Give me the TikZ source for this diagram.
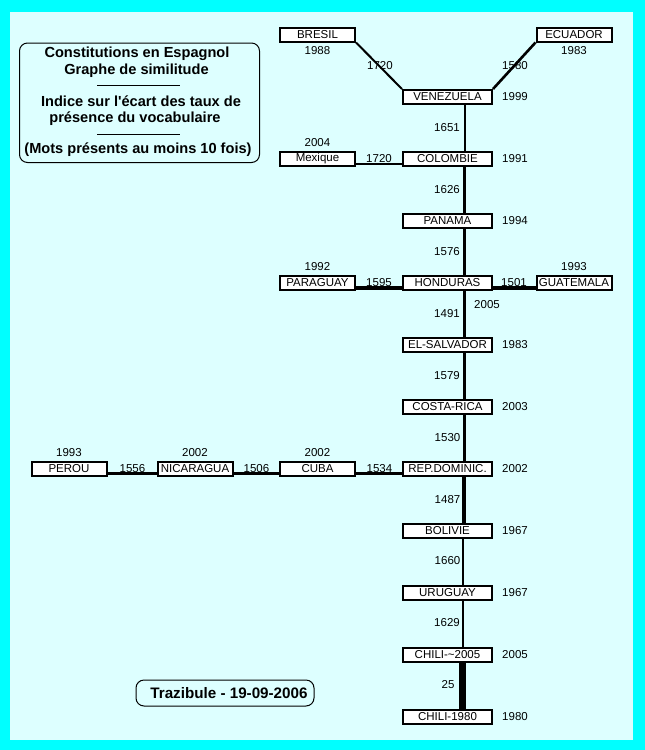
\documentclass[tikz,border=0pt]{standalone}
\usepackage{fontspec}
\setmainfont{Liberation Sans}
\definecolor{frame}{RGB}{0,255,255}
\definecolor{inner}{RGB}{221,255,255}
\tikzset{
  base/.style={draw=black, line width=2pt, fill=white, inner sep=0pt, minimum height=14pt, font=\fontsize{11.5}{12}\selectfont},
  mainbox/.style={base, minimum width=89pt},
  sidebox/.style={base, minimum width=75pt},
  lbl/.style={inner sep=0pt, font=\fontsize{11.5}{12}\selectfont},
  ttl/.style={inner sep=0pt, font=\fontsize{14.6}{15}\selectfont\bfseries},
  wa/.style={line width=2pt},
  wb/.style={line width=2.6pt},
  wc/.style={line width=3.3pt},
  wd/.style={line width=4pt},
  we/.style={line width=7pt},
}
\begin{document}
\begin{tikzpicture}[x=1pt,y=-1pt]
\fill[frame] (0,0) rectangle (645,750);
\fill[inner] (10,12) rectangle (633,740);
\useasboundingbox (0,0) rectangle (645,750);

% legend
\draw[line width=1pt, rounded corners=8pt] (19.5,43) rectangle (259.5,162.5);
\node[ttl] (t1) at (137,54) {Constitutions en Espagnol};
\node[ttl] (t2) at (136.5,70.5) {Graphe de similitude};
\draw[line width=1pt] (97,85.3) -- (180,85.3);
\node[ttl] (t3) at (141,101.5) {Indice sur l\textquotesingle écart des taux de};
\node[ttl] (t4) at (135,118.3) {présence du vocabulaire};
\draw[line width=1pt] (97,134.3) -- (180,134.3);
\node[ttl] (t5) at (138,150) {(Mots présents au moins 10 fois)};
\draw[line width=1pt, rounded corners=8pt] (136,680) rectangle (314,706);
\node[ttl, font=\fontsize{15.2}{16}\selectfont\bfseries] (tz) at (229,693) {Trazibule - 19-09-2006};

% main column
\node[mainbox] (ven) at (447.5,97) {VENEZUELA};
\node[mainbox] (col) at (447.5,159) {COLOMBIE};
\node[mainbox] (pan) at (447.5,221) {PANAMA};
\node[mainbox] (hon) at (447.5,283) {HONDURAS};
\node[mainbox] (els) at (447.5,345) {EL-SALVADOR};
\node[mainbox] (cr) at (447.5,407) {COSTA-RICA};
\node[mainbox] (rd) at (447.5,469) {REP.DOMINIC.};
\node[mainbox] (bol) at (447.5,531) {BOLIVIE};
\node[mainbox] (uru) at (447.5,593) {URUGUAY};
\node[mainbox] (cha) at (447.5,655) {CHILI-\textasciitilde 2005};
\node[mainbox] (chb) at (447.5,717) {CHILI-1980};
% side boxes
\node[sidebox] (bre) at (317.5,34.5) {BRESIL};
\node[sidebox] (ecu) at (574,34.5) {ECUADOR};
\node[sidebox] (mex) at (317.5,159) {Mexique};
\node[sidebox] (par) at (317.5,283) {PARAGUAY};
\node[sidebox] (gua) at (574,283) {GUATEMALA};
\node[sidebox] (cub) at (317.5,469) {CUBA};
\node[sidebox] (nic) at (195,469) {NICARAGUA};
\node[sidebox] (per) at (69,469) {PEROU};

% years
\node[lbl] (yven) at (515,97) {1999};
\node[lbl] (ycol) at (515,159) {1991};
\node[lbl] (ypan) at (515,221) {1994};
\node[lbl] (yhon) at (487,305) {2005};
\node[lbl] (yels) at (515,345) {1983};
\node[lbl] (ycr) at (515,407) {2003};
\node[lbl] (yrd) at (515,469) {2002};
\node[lbl] (ybol) at (515,531) {1967};
\node[lbl] (yuru) at (515,593) {1967};
\node[lbl] (ycha) at (515,655) {2005};
\node[lbl] (ychb) at (515,717) {1980};
\node[lbl] (ybre) at (317.5,50.5) {1988};
\node[lbl] (yecu) at (574,50.5) {1983};
\node[lbl] (ymex) at (317.5,142.5) {2004};
\node[lbl] (ypar) at (317.5,266.5) {1992};
\node[lbl] (ygua) at (574,266.5) {1993};
\node[lbl] (ycub) at (317.5,452.5) {2002};
\node[lbl] (ynic) at (195,452.5) {2002};
\node[lbl] (yper) at (69,452.5) {1993};

% connectors
\draw[wa] (bre.south east) -- (ven.north west);
\draw[wb] (ecu.south west) -- (ven.north east);
\draw[wa] ([xshift=17pt]ven.south) -- ([xshift=17pt]col.north);
\draw[wa] ([yshift=-5pt]mex.east) -- ([yshift=-5pt]col.west);
\draw[wb] ([xshift=17pt]col.south) -- ([xshift=17pt]pan.north);
\draw[wb] ([xshift=17pt]pan.south) -- ([xshift=17pt]hon.north);
\draw[wc] ([yshift=-5pt]par.east) -- ([yshift=-5pt]hon.west);
\draw[wd] ([yshift=-5pt]hon.east) -- ([yshift=-5pt]gua.west);
\draw[wc] ([xshift=17pt]hon.south) -- ([xshift=17pt]els.north);
\draw[wb] ([xshift=17pt]els.south) -- ([xshift=17pt]cr.north);
\draw[wb] ([xshift=17pt]cr.south) -- ([xshift=17pt]rd.north);
\draw[wc] ([yshift=-4.5pt]cub.east) -- ([yshift=-4.5pt]rd.west);
\draw[wb] ([yshift=-4.5pt]nic.east) -- ([yshift=-4.5pt]cub.west);
\draw[wb] ([yshift=-4.5pt]per.east) -- ([yshift=-4.5pt]nic.west);
\draw[wc] ([xshift=16.5pt]rd.south) -- ([xshift=16.5pt]bol.north);
\draw[wa] ([xshift=15.5pt]bol.south) -- ([xshift=15.5pt]uru.north);
\draw[wa] ([xshift=15pt]uru.south) -- ([xshift=15pt]cha.north);
\draw[we] ([xshift=15pt]cha.south) -- ([xshift=15pt]chb.north);

% edge labels
\node[lbl] (e1) at (380,66) {1720};
\node[lbl] (e2) at (515,66) {1580};
\node[lbl] (e3) at (447,128) {1651};
\node[lbl] (e4) at (379,159) {1720};
\node[lbl] (e5) at (447,190) {1626};
\node[lbl] (e6) at (447,252) {1576};
\node[lbl] (e7) at (379,282.5) {1595};
\node[lbl] (e8) at (514,282.5) {1501};
\node[lbl] (e9) at (447,313.5) {1491};
\node[lbl] (e10) at (447,376) {1579};
\node[lbl] (e11) at (447.5,437.5) {1530};
\node[lbl] (e12) at (379.5,468.5) {1534};
\node[lbl] (e13) at (132.5,468.5) {1556};
\node[lbl] (e14) at (256.5,468.5) {1506};
\node[lbl] (e15) at (447.5,500) {1487};
\node[lbl] (e16) at (447.5,561) {1660};
\node[lbl] (e17) at (447,623) {1629};
\node[lbl] (e18) at (448,685) {25};
\end{tikzpicture}
\end{document}
